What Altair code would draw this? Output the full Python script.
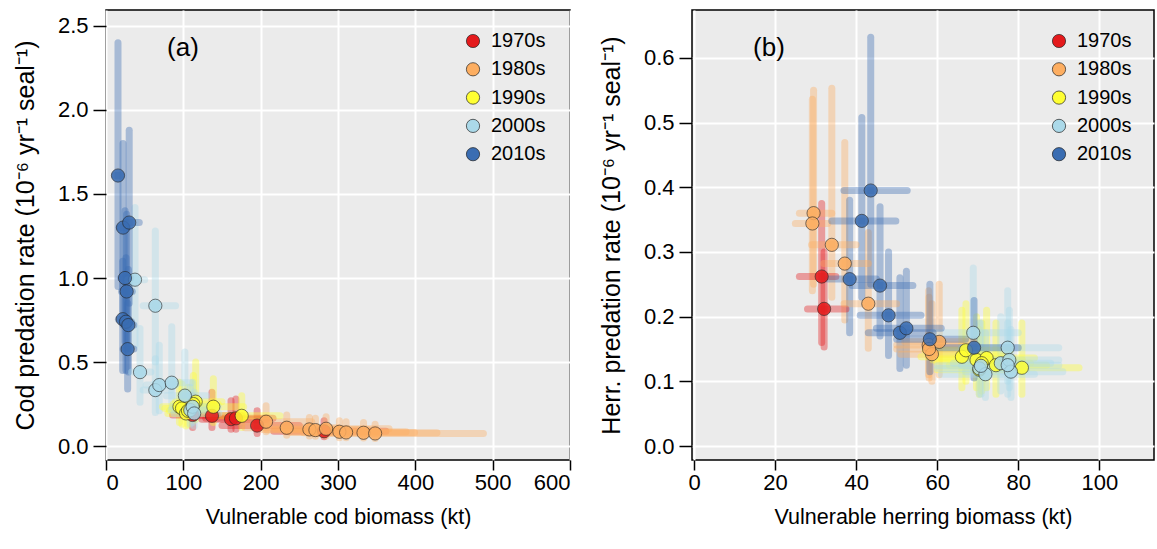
import altair as alt
import pandas as pd

DECADES = ["1970s", "1980s", "1990s", "2000s", "2010s"]
COLORS = ["#E41A1C", "#FDAE61", "#FFFF33", "#ABD9E9", "#3A6DB2"]
FONT = "Liberation Sans"

# ---------------- Panel (a): cod ----------------
a_decade = (["1970s"] * 6 + ["1980s"] * 9 + ["1990s"] * 8 + ["2000s"] * 10 + ["2010s"] * 9)
a_x = [112, 137, 161.7, 168, 195.4, 282,
       207, 233.7, 263, 270.8, 284.6, 301.8, 310.5, 333, 348,
       95, 98.3, 116, 138.8, 175.5, 103.5, 106, 113,
       37.5, 63.8, 44, 63.8, 68.9, 85, 102, 109, 112, 114,
       15.5, 22, 30, 24.6, 26.7, 21.6, 25.9, 28.9, 28]
a_y = [0.185, 0.18, 0.16, 0.165, 0.122, 0.088,
       0.145, 0.109, 0.099, 0.095, 0.103, 0.085, 0.081, 0.079, 0.075,
       0.234, 0.224, 0.264, 0.234, 0.18, 0.194, 0.21, 0.25,
       0.99, 0.835, 0.44, 0.333, 0.363, 0.377, 0.30, 0.214, 0.234, 0.194,
       1.61, 1.30, 1.33, 1.00, 0.92, 0.755, 0.74, 0.72, 0.577]
a_xlo = [86, 105, 124, 129, 150, 217,
         159, 180, 202, 208, 219, 232, 239, 256, 268,
         73, 76, 90, 107, 135, 80, 82, 87,
         28, 48, 33, 48, 52, 64, 78, 84, 86, 88,
         11, 17, 26, 19, 20, 16, 20, 22, 22]
a_xhi = [144, 176, 208, 216, 250, 362,
         266, 300, 338, 348, 366, 388, 399, 428, 488,
         122, 126, 150, 178, 225, 133, 136, 145,
         50, 90, 58, 84, 90, 110, 130, 140, 145, 146,
         20, 28, 43, 32, 34, 28, 33, 36, 36]
a_ylo = [0.11, 0.11, 0.10, 0.10, 0.075, 0.055,
         0.085, 0.065, 0.06, 0.058, 0.06, 0.05, 0.05, 0.048, 0.045,
         0.14, 0.13, 0.16, 0.14, 0.11, 0.12, 0.13, 0.15,
         0.60, 0.50, 0.26, 0.20, 0.21, 0.22, 0.18, 0.13, 0.14, 0.12,
         0.95, 0.80, 0.85, 0.62, 0.58, 0.45, 0.45, 0.44, 0.34]
a_yhi = [0.30, 0.32, 0.27, 0.28, 0.21, 0.15,
         0.24, 0.185, 0.17, 0.165, 0.175, 0.15, 0.145, 0.14, 0.13,
         0.38, 0.37, 0.50, 0.40, 0.30, 0.32, 0.35, 0.42,
         1.42, 1.28, 0.70, 0.52, 0.60, 0.71, 0.56, 0.35, 0.38, 0.32,
         2.40, 1.80, 1.88, 1.40, 1.38, 1.10, 1.12, 1.05, 0.85]

# ---------------- Panel (b): herring ----------------
b_decade = (["1970s"] * 2 + ["1980s"] * 9 + ["1990s"] * 8 + ["2000s"] * 9 + ["2010s"] * 9)
b_x = [31.5, 32.1,
       29.5, 29.2, 34, 37.2, 43, 57.9, 58.7, 60.5, 58,
       66.1, 67.1, 69.7, 72.2, 74.5, 80.9, 70.4, 71,
       68.9, 77.4, 75.7, 70.4, 71.9, 77.8, 78.2, 70.8, 77.4,
       43.6, 41.4, 38.4, 45.9, 48, 50.8, 52.4, 58.2, 69.1]
b_y = [0.262, 0.212,
       0.36, 0.344, 0.311, 0.282, 0.22, 0.156, 0.142, 0.161, 0.15,
       0.138, 0.148, 0.133, 0.136, 0.125, 0.121, 0.118, 0.128,
       0.175, 0.152, 0.128, 0.12, 0.111, 0.133, 0.115, 0.124, 0.125,
       0.395, 0.348, 0.258, 0.248, 0.202, 0.175, 0.182, 0.165, 0.152]
b_xlo = [26, 28,
         26, 25, 29, 32, 37, 50, 51, 52, 50,
         56, 57, 59, 61, 63, 69, 60, 60,
         59, 66, 64, 60, 61, 66, 67, 60, 66,
         37, 34, 33, 39, 41, 43, 45, 50, 59]
b_xhi = [35, 37.5,
         34, 33, 40, 43, 50, 66, 67, 69, 66,
         77, 78, 81, 84, 87, 95, 82, 83,
         80, 90, 88, 82, 84, 90, 91, 82, 90,
         52.6, 49.8, 45, 54, 56, 59, 61, 67, 80]
b_ylo = [0.16, 0.153,
         0.25, 0.24, 0.23, 0.195, 0.151, 0.11, 0.10, 0.11, 0.105,
         0.09, 0.10, 0.09, 0.09, 0.08, 0.08, 0.08, 0.085,
         0.12, 0.10, 0.085, 0.08, 0.075, 0.09, 0.075, 0.08, 0.08,
         0.25, 0.23, 0.175, 0.17, 0.14, 0.12, 0.125, 0.115, 0.105]
b_yhi = [0.375, 0.30,
         0.55, 0.536, 0.553, 0.469, 0.33, 0.24, 0.22, 0.25, 0.23,
         0.21, 0.22, 0.20, 0.21, 0.19, 0.19, 0.18, 0.19,
         0.275, 0.24, 0.20, 0.19, 0.175, 0.21, 0.18, 0.19, 0.19,
         0.632, 0.508, 0.38, 0.37, 0.30, 0.26, 0.27, 0.25, 0.225]

a_df = pd.DataFrame(dict(decade=a_decade, x=a_x, y=a_y, xlo=a_xlo, xhi=a_xhi, ylo=a_ylo, yhi=a_yhi))
b_df = pd.DataFrame(dict(decade=b_decade, x=b_x, y=b_y, xlo=b_xlo, xhi=b_xhi, ylo=b_ylo, yhi=b_yhi))


def panel(df, label, xdom, xvals, xtitle, ydom, yvals, ytitle, width):
    xs = alt.Scale(domain=xdom, nice=False, zero=False)
    ys = alt.Scale(domain=ydom, nice=False, zero=False)
    xax = alt.Axis(values=xvals, title=xtitle, format="d")
    yax = alt.Axis(values=yvals, title=ytitle, format=".1f")
    # bars: data-derived (alphabetical) domain so this scale is kept apart from the legend's one
    stroke_enc = alt.Stroke("decade:N", scale=alt.Scale(range=COLORS), legend=None)
    base = alt.Chart(df)
    vbars = base.mark_rule(strokeWidth=7, opacity=0.38, strokeCap="round").encode(
        x=alt.X("x:Q", scale=xs, axis=xax),
        y=alt.Y("ylo:Q", scale=ys, axis=yax),
        y2="yhi:Q",
        stroke=stroke_enc,
    )
    hbars = base.mark_rule(strokeWidth=7, opacity=0.38, strokeCap="round").encode(
        x=alt.X("xlo:Q", scale=xs),
        x2="xhi:Q",
        y=alt.Y("y:Q", scale=ys),
        stroke=stroke_enc,
    )
    pts = base.mark_circle(size=175, opacity=0.85, stroke="#222222", strokeWidth=0.7).encode(
        x=alt.X("x:Q", scale=xs),
        y=alt.Y("y:Q", scale=ys),
        fill=alt.Fill(
            "decade:N", scale=alt.Scale(domain=DECADES, range=COLORS),
            legend=alt.Legend(
                title=None, orient="none", legendX=357, legendY=21,
                labelFontSize=20, labelFont=FONT, symbolSize=175, symbolType="circle",
                symbolStrokeColor="#222222", symbolStrokeWidth=0.7, symbolOpacity=1,
                rowPadding=8.3, labelOffset=8, labelColor="black",
            ),
        ),
    )
    txt = alt.Chart(pd.DataFrame({"t": [label]})).mark_text(
        fontSize=26, font=FONT, align="center", baseline="middle", color="black"
    ).encode(text="t:N", x=alt.value(77), y=alt.value(38))
    return alt.layer(vbars, hbars, pts, txt).properties(width=width, height=450)


pa = panel(a_df, "(a)", [0, 600], [0, 100, 200, 300, 400, 500, 600], "Vulnerable cod biomass (kt)",
           [-0.083, 2.595], [0, 0.5, 1.0, 1.5, 2.0, 2.5],
           "Cod predation rate (10\u207b\u2076 yr\u207b\u00b9 seal\u207b\u00b9)", 464)
pb = panel(b_df, "(b)", [-0.5, 113.5], [0, 20, 40, 60, 80, 100], "Vulnerable herring biomass (kt)",
           [-0.0216, 0.674], [0, 0.1, 0.2, 0.3, 0.4, 0.5, 0.6],
           "Herr. predation rate (10\u207b\u2076 yr\u207b\u00b9 seal\u207b\u00b9)", 462)

chart = alt.hconcat(pa, pb, spacing=26).resolve_scale(fill="independent", stroke="independent").properties(
    padding={"left": 12, "right": 2, "top": 9, "bottom": 2}
).configure_view(
    fill="#EBEBEB", stroke="black", strokeWidth=1.5
).configure_axis(
    domain=False, grid=True, gridColor="white", gridWidth=2,
    ticks=True, tickColor="black", tickWidth=1.5,
    labelFont=FONT, labelFontSize=22, labelColor="black",
    titleFont=FONT, titleFontSize=21.5, titleFontWeight="normal", titleColor="black",
).configure_axisY(
    titlePadding=19, tickSize=13, labelPadding=5, titleFontSize=25
).configure_axisX(
    titlePadding=13, tickSize=10, labelPadding=2
)

chart.save("out.html", embed_options={"renderer": "svg", "actions": False})
